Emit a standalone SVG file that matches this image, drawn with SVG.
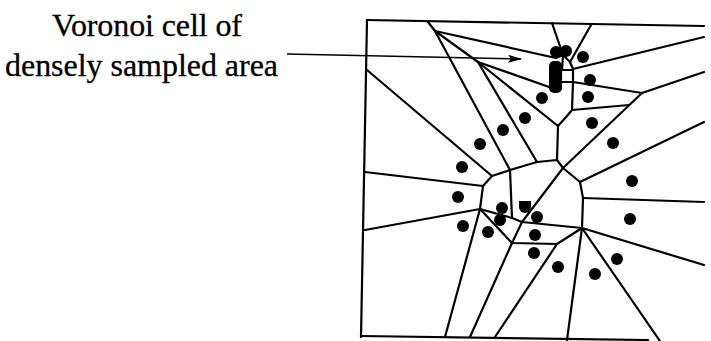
<svg xmlns="http://www.w3.org/2000/svg" width="711" height="341" viewBox="0 0 711 341">
<style>
.e{fill:none;stroke:#000;stroke-width:2.2;stroke-linecap:round;stroke-linejoin:round}
.s{fill:#000}
.a{fill:none;stroke:#000;stroke-width:1.6}
</style>
<defs>
<marker id="ah" viewBox="0 0 14 8" refX="13" refY="4" markerWidth="14" markerHeight="8" markerUnits="userSpaceOnUse" orient="auto">
<path d="M0,0 L14,4 L0,8 L3,4 Z" fill="#000"/>
</marker>
</defs>
<g id="label" font-family="'Liberation Serif', serif" font-size="32" fill="#000" stroke="#000" stroke-width="0.3">
<text x="52" y="36" textLength="190" lengthAdjust="spacing">Voronoi cell of</text>
<text x="5" y="76" textLength="273" lengthAdjust="spacing">densely sampled area</text>
</g>
<g id="frame">
<path class="e" d="M367,20 L704,26"/>
<path class="e" d="M367,20 L361,337"/>
<path class="e" d="M361,336 L648,340"/>
</g>
<g id="edges">
<path class="e" d="M428,22 L435,31"/>
<path class="e" d="M435,31 L556,58"/>
<path class="e" d="M435,31 L478,62"/>
<path class="e" d="M435,31 L510,170"/>
<path class="e" d="M478,62 L552,88"/>
<path class="e" d="M478,62 L558,126"/>
<path class="e" d="M478,62 L537,162"/>
<path class="e" d="M367,70 L492,176"/>
<path class="e" d="M552,23 L563,55"/>
<path class="e" d="M591,25 L570,62"/>
<path class="e" d="M556,58 L563,55 L570,62 M563,55 L562,70 M570,62 L573,69"/>
<path class="e" d="M561,70 H573 V82 H561 Z"/>
<path class="e" d="M573,69 L704,37"/>
<path class="e" d="M573,82 L642,93 L704,72"/>
<path class="e" d="M573,82 L572,110 L567,116 L558,126 L557,160"/>
<path class="e" d="M572,110 L629,105"/>
<path class="e" d="M642,93 L563,168"/>
<path class="e" d="M365,172 L483,186 L492,176 L510,170 L537,162 L557,160 L563,168 L580,182 L583,198 L582,228"/>
<path class="e" d="M483,186 L480,209"/>
<path class="e" d="M365,230 L480,209 L512,218 L522,222 L563,168"/>
<path class="e" d="M510,170 L512,218"/>
<path class="e" d="M522,222 L582,228"/>
<path class="e" d="M522,222 L512,243"/>
<path class="e" d="M480,209 L512,243 L557,244 L582,228"/>
<path class="e" d="M480,209 L445,337"/>
<path class="e" d="M512,243 L470,337"/>
<path class="e" d="M557,244 L495,337"/>
<path class="e" d="M580,182 L704,122"/>
<path class="e" d="M583,198 L704,202"/>
<path class="e" d="M582,228 L704,265"/>
<path class="e" d="M582,228 L660,341"/>
<path class="e" d="M582,228 L567,340"/>
</g>
<g id="sites">
<circle class="s" cx="556" cy="52" r="6"/>
<circle class="s" cx="566" cy="51" r="6"/>
<rect class="s" x="549" y="61" width="13" height="32" rx="5"/>
<circle class="s" cx="583" cy="57" r="6"/>
<circle class="s" cx="590" cy="80" r="6"/>
<circle class="s" cx="588" cy="97" r="6"/>
<circle class="s" cx="592" cy="123" r="6"/>
<circle class="s" cx="613" cy="143" r="6"/>
<circle class="s" cx="542" cy="98" r="6"/>
<circle class="s" cx="525" cy="118" r="6"/>
<circle class="s" cx="503" cy="130" r="6"/>
<circle class="s" cx="480" cy="144" r="6"/>
<circle class="s" cx="462" cy="167" r="6"/>
<circle class="s" cx="458" cy="197" r="6"/>
<circle class="s" cx="463" cy="226" r="6"/>
<circle class="s" cx="502" cy="208" r="6"/>
<circle class="s" cx="500" cy="220" r="6"/>
<circle class="s" cx="488" cy="232" r="6"/>
<path class="s" d="M519,201 H531 V207 A6,6 0 0 1 519,207 Z"/>
<circle class="s" cx="537" cy="217" r="6"/>
<circle class="s" cx="535" cy="235" r="6"/>
<circle class="s" cx="534" cy="253" r="6"/>
<circle class="s" cx="558" cy="267" r="6"/>
<circle class="s" cx="595" cy="274" r="6"/>
<circle class="s" cx="617" cy="259" r="6"/>
<circle class="s" cx="630" cy="219" r="6"/>
<circle class="s" cx="632" cy="181" r="6"/>
</g>
<g id="connectors">
<path class="a" d="M287,54 L521,59" marker-end="url(#ah)"/>
</g>
</svg>
